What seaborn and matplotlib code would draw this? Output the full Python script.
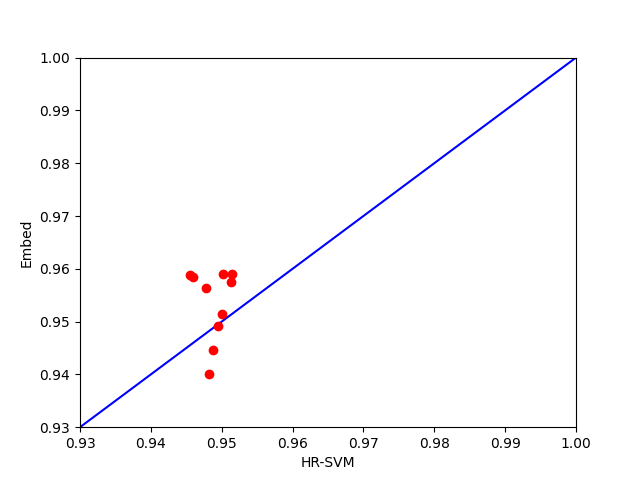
import matplotlib
matplotlib.use("Agg")
import matplotlib.pyplot as plt
import seaborn as sns

# ----------------------------- data ------------------------------
hr_svm = [0.9455, 0.9460, 0.9478, 0.9502, 0.9514, 0.9513, 0.9501, 0.9495, 0.9487, 0.9482]
embed = [0.9588, 0.9585, 0.9563, 0.9590, 0.9590, 0.9575, 0.9514, 0.9492, 0.9446, 0.9401]
diag = [0.93, 1.00]

# ----------------------------- plot ------------------------------
fig, ax = plt.subplots(figsize=(6.4, 4.8), dpi=100)
sns.lineplot(x=diag, y=diag, color="blue", ax=ax)
sns.scatterplot(x=hr_svm, y=embed, color="red", s=36, edgecolor="red", linewidth=1,
                ax=ax, zorder=3)
ax.set_xlim(0.93, 1.00)
ax.set_ylim(0.93, 1.00)
ax.set_xlabel("HR-SVM")
ax.set_ylabel("Embed")
plt.savefig("out.png", dpi=100)
